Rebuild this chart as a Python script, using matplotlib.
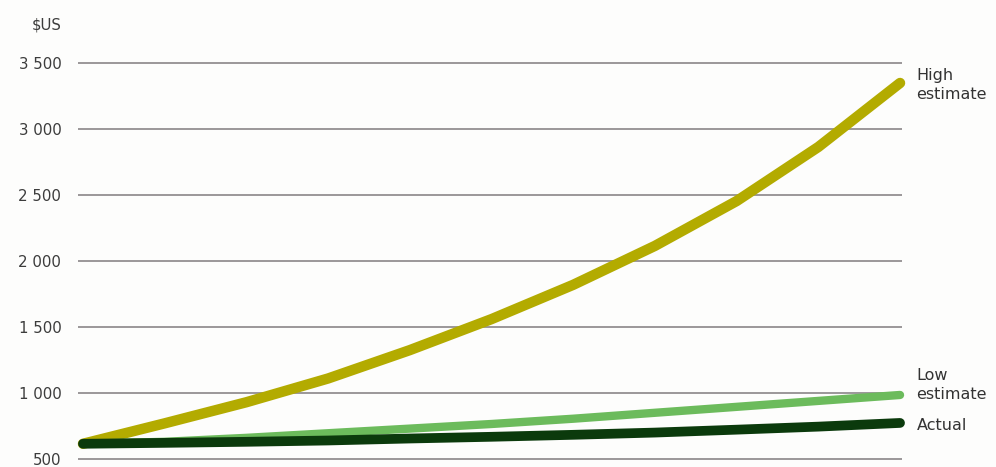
import matplotlib.pyplot as plt

# values (x positions are evenly spaced steps, no labels on x)
steps = list(range(11))
high_estimate = [615, 770, 930, 1110, 1325, 1560, 1820, 2115, 2455, 2865, 3350]
low_estimate = [615, 630, 660, 695, 730, 765, 805, 850, 895, 940, 985]
actual = [615, 622, 630, 640, 655, 668, 683, 700, 722, 745, 773]
yticks = [500, 1000, 1500, 2000, 2500, 3000, 3500]
ytick_labels = ['500', '1 000', '1 500', '2 000', '2 500', '3 000', '3 500']

fig = plt.figure(figsize=(9.96, 4.67), dpi=100)
fig.patch.set_facecolor('#fdfdfc')
ax = fig.add_axes([78 / 996, 0, (902 - 78) / 996, 1])
ax.set_facecolor('none')

ax.plot(steps, high_estimate, color='#b3ab00', linewidth=7.5, solid_capstyle='round', clip_on=False, zorder=3)
ax.plot(steps, low_estimate, color='#6cbb5c', linewidth=6, solid_capstyle='round', clip_on=False, zorder=4)
ax.plot(steps, actual, color='#0b3a0c', linewidth=7, solid_capstyle='round', clip_on=False, zorder=5)

ax.set_xlim(-0.061, 10.024)
ax.set_ylim(439, 3979)
ax.set_xticks([])
ax.set_yticks(yticks)
ax.set_yticklabels(ytick_labels, fontsize=10.8, color='#3c3c3c')
ax.tick_params(axis='y', length=0, pad=12)
ax.yaxis.grid(True, color='#8a8688', linewidth=1.2)
ax.set_axisbelow(True)
for s in ax.spines.values():
    s.set_visible(False)

ax.text(-0.0195, 3790, '$US', transform=ax.get_yaxis_transform(), ha='right', va='center',
        fontsize=10.8, color='#3c3c3c')

# end labels
label_kw = dict(fontsize=11.5, color='#333333', ha='left', va='center', clip_on=False)
ax.text(10.2, high_estimate[-1] - 15, 'High\nestimate', linespacing=1.35, **label_kw)
ax.text(10.2, low_estimate[-1] + 75, 'Low\nestimate', linespacing=1.35, **label_kw)
ax.text(10.2, actual[-1] - 20, 'Actual', **label_kw)

fig.savefig('out.png', dpi=100)
